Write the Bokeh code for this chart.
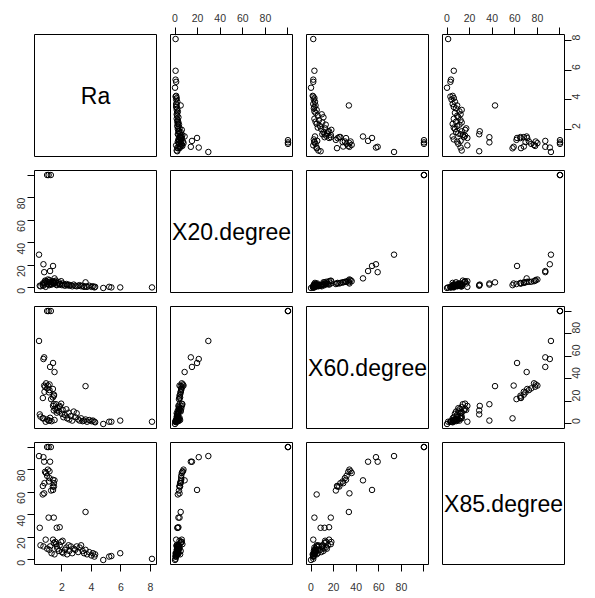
import math
from bokeh.plotting import figure
from bokeh.layouts import gridplot
from bokeh.models import Range1d, FixedTicker, LinearAxis, Label, ColumnDataSource
from bokeh.embed import file_html
from bokeh.resources import INLINE

var_names = ["Ra", "X20.degree", "X60.degree", "X85.degree"]

ra = [1.0, 1.1, 1.25, 0.45, 0.75, 0.8, 1.2, 1.4, 1.5, 3.6, 0.8, 0.7, 1.1, 1.45, 0.5, 1.65, 1.85,
      0.86, 1.05, 1.16, 0.93, 1.0, 1.16, 0.82, 0.71, 1.12, 1.39, 1.46, 1.39, 1.27, 1.46,
      0.55, 0.75, 0.9, 1.0, 1.15, 1.2, 1.3, 1.4, 1.45, 1.5, 1.55, 1.6, 1.65, 1.7, 1.8, 1.85,
      1.95, 2.0, 2.05, 2.1, 2.2, 2.3, 2.35, 2.45, 2.5, 2.6, 2.7, 2.8, 2.9, 3.0, 3.1, 3.2, 3.3,
      3.4, 3.5, 3.6, 3.7, 3.85, 4.0, 4.1, 4.2, 4.25, 4.8, 5.2, 5.35, 5.95, 8.1]

x20 = [100, 100, 100, 29.5, 21, 14, 15, 19.5, 8.5, 5, 4, 2.5, 3, 4, 2, 2.5, 3,
       6.5, 7.5, 7, 6, 5.5, 5.5, 5, 4, 5, 5.5, 4.5, 4.5, 3.5, 4,
       1.5, 2.0, 1.0, 3.5, 2.5, 4.0, 3.0, 6.0, 5.0, 4.5, 5.5, 6.5, 3.0, 4.0, 5.0, 3.5,
       6.0, 2.5, 4.0, 3.0, 2.0, 3.5, 2.5, 3.0, 2.0, 2.5, 1.5, 3.0, 2.0, 1.5, 2.0, 2.5, 1.5,
       2.0, 1.0, 1.5, 1.0, 2.0, 1.0, 1.5, 0.5, 1.0, 0, 1.0, 0.5, 0.5, 0.5]

x60 = [100, 100, 100, 73.5, 57.5, 59, 50.5, 54, 46, 33.5, 34, 5, 3, 17.5, 8.5, 12, 16,
       33, 34, 35, 36, 31.5, 30, 28.5, 23, 28, 31, 26, 23.5, 22, 25,
       6.5, 5.0, 2.0, 4.0, 3.0, 5.5, 2.5, 16.0, 12.0, 3.5, 13.5, 17.5, 10.0, 14.0, 11.0, 15.0,
       18.0, 9.0, 12.5, 6.0, 8.0, 13.0, 5.0, 10.0, 4.0, 7.0, 3.0, 11.0, 6.0, 9.5, 4.0, 3.0, 5.0,
       2.5, 3.0, 4.0, 2.0, 3.5, 2.5, 3.0, 2.0, 1.5, 0, 2.0, 2.0, 3.0, 2.0]

x85 = [100, 100, 100, 92, 91, 87, 87, 62, 70.5, 42.5, 59, 58, 37.5, 37.5, 28.5, 28.5, 29,
       78, 80, 78.5, 77, 74.5, 72.5, 68, 65.5, 69.5, 71, 68, 65, 61.5, 65,
       13, 12, 18, 10, 9, 12, 6, 18, 15, 5, 16, 14, 12, 10, 8, 13,
       16, 7, 17, 6, 9, 11, 5, 13, 8, 12, 6, 10, 9, 12, 7, 11, 13,
       8, 6, 9, 5, 7, 4, 6, 3, 5, 0, 3, 3.5, 6, 1]

ra_ticks = [2, 4, 6, 8]
ra_tick_labels = ["2", "4", "6", "8"]
deg_ticks = [0, 20, 40, 60, 80, 100]
deg_tick_labels = ["0", "20", "40", "60", "80", ""]

keys = ["ra", "x20", "x60", "x85"]
data = dict(ra=ra, x20=x20, x60=x60, x85=x85)
src = ColumnDataSource(data)


def padded(vals):
    lo, hi = min(vals), max(vals)
    d = (hi - lo) * 0.04
    return lo - d, hi + d


ranges = {k: padded(data[k]) for k in keys}

FONT = "Liberation Sans"
col_w = [163, 136, 136, 153]
b_left = [34, 7, 7, 7]
b_right = [7, 7, 7, 24]
row_h = [163, 136, 136, 159]
b_top = [34, 7, 7, 7]
b_bottom = [7, 7, 7, 30]

standoff = {"above": 6, "below": 11, "left": 6, "right": 5}


def make_axis(key, side):
    if key == "ra":
        ticks, labels = ra_ticks, ra_tick_labels
    else:
        ticks, labels = deg_ticks, deg_tick_labels
    ax = LinearAxis(ticker=FixedTicker(ticks=ticks),
                    major_label_overrides={t: l for t, l in zip(ticks, labels)})
    ax.axis_line_color = None
    ax.major_tick_out = 7
    ax.major_tick_in = 0
    ax.minor_tick_out = 0
    ax.minor_tick_in = 0
    ax.major_tick_line_color = "black"
    ax.major_label_text_font = FONT
    ax.major_label_text_font_size = "10.5px"
    ax.major_label_text_color = "#333333"
    ax.major_label_standoff = standoff[side]
    if side in ("left", "right"):
        ax.major_label_orientation = math.pi / 2
    return ax


rows = []
for i in range(4):
    row = []
    for j in range(4):
        xr = Range1d(*ranges[keys[j]])
        yr = Range1d(*ranges[keys[i]])
        p = figure(width=col_w[j], height=row_h[i], x_range=xr, y_range=yr,
                   output_backend="svg", toolbar_location=None,
                   x_axis_location=None, y_axis_location=None,
                   min_border_left=b_left[j], min_border_right=b_right[j],
                   min_border_top=b_top[i], min_border_bottom=b_bottom[i])
        p.grid.visible = False
        p.outline_line_color = "black"
        p.outline_line_width = 1
        p.outline_line_alpha = 1
        p.background_fill_color = "white"
        p.border_fill_color = "white"
        if i == j:
            cx = sum(ranges[keys[j]]) / 2
            cy = sum(ranges[keys[i]]) / 2
            p.add_layout(Label(x=cx, y=cy, text=var_names[i], text_align="center",
                               text_baseline="middle", text_font=FONT,
                               text_font_size="23px", text_color="black"))
        else:
            p.scatter(x=keys[j], y=keys[i], source=src, marker="circle", size=5.5,
                      fill_color=None, line_color="black", line_width=1)
        if i == 0 and j % 2 == 1:
            p.add_layout(make_axis(keys[j], "above"), "above")
        if i == 3 and j % 2 == 0:
            p.add_layout(make_axis(keys[j], "below"), "below")
        if j == 0 and i % 2 == 1:
            p.add_layout(make_axis(keys[i], "left"), "left")
        if j == 3 and i % 2 == 0:
            p.add_layout(make_axis(keys[i], "right"), "right")
        row.append(p)
    rows.append(row)

grid = gridplot(rows, toolbar_location=None)

open("out.html", "w").write(file_html(grid, INLINE, title="pairs"))
